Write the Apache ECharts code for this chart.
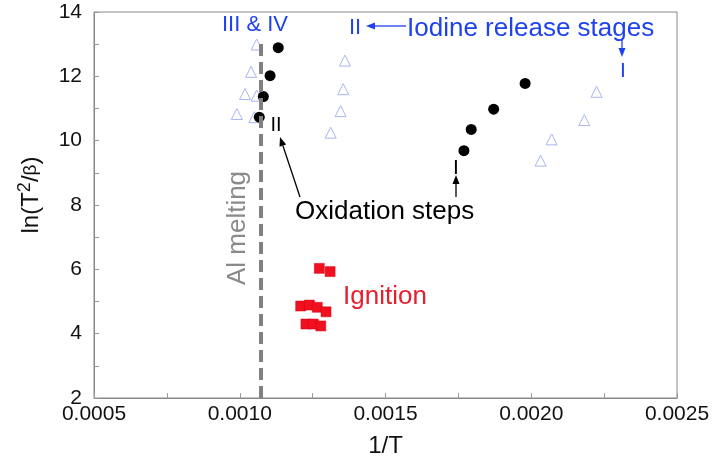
<!DOCTYPE html>
<html>
<head>
<meta charset="utf-8">
<script src="https://cdn.jsdelivr.net/npm/echarts@6/dist/echarts.min.js"></script>
<style>
html, body { margin: 0; padding: 0; background: #fff; }
#chart { width: 726px; height: 466px; }
</style>
</head>
<body>
<div id="chart"></div>
<script>
// oxidation steps (black dots)
var oxX = [0.001067, 0.001081, 0.001104, 0.001132, 0.001769, 0.001794, 0.001871, 0.001979];
var oxY = [10.73, 11.37, 12.02, 12.89, 9.69, 10.35, 10.98, 11.78];
// iodine release stages (open triangles)
var ioX = [0.00099, 0.00105, 0.001018, 0.001058, 0.001039, 0.001058,
           0.001312, 0.001346, 0.001355, 0.001361,
           0.002032, 0.00207, 0.002182, 0.002224];
var ioY = [10.83, 10.73, 11.45, 11.40, 12.14, 12.99,
           10.25, 10.92, 11.60, 12.49,
           9.38, 10.04, 10.64, 11.52];
// ignition (red squares)
var igX = [0.001273, 0.00131, 0.001209, 0.001239, 0.001266, 0.001296, 0.001227, 0.001252, 0.001278];
var igY = [6.03, 5.93, 4.86, 4.89, 4.82, 4.68, 4.30, 4.30, 4.24];
// Al melting line
var alX = 0.001073;
var alY = [2, 13.07];

var xTicks = [0.0005, 0.0010, 0.0015, 0.0020, 0.0025];
var yTicks = [2, 4, 6, 8, 10, 12, 14];

function pairs(xs, ys) {
    return xs.map(function (x, i) { return [x, ys[i]] })
}

var FONT = '"Liberation Sans", Arial, sans-serif'
var BLUE = '#1f42ee'

function txt(text, x, y, size, color, opts) {
    var o = {
        type: 'text', x: x, y: y, z: 100,
        style: {
            text: text, fontSize: size, fontFamily: FONT, fill: color,
            align: (opts && opts.align) || 'center', verticalAlign: 'middle'
        }
    }
    if (opts && opts.rotation) o.rotation = opts.rotation
    return o
}

function arrow(x1, y1, x2, y2, color) {
    var a = Math.atan2(y2 - y1, x2 - x1), h = 9, w = 3.5
    var bx = x2 - h * Math.cos(a), by = y2 - h * Math.sin(a)
    return [
        { type: 'line', z: 100, shape: { x1: x1, y1: y1, x2: bx, y2: by }, style: { stroke: color, lineWidth: 1.3 } },
        { type: 'polygon', z: 100, shape: { points: [[x2, y2], [bx + w * Math.sin(a), by - w * Math.cos(a)], [bx - w * Math.sin(a), by + w * Math.cos(a)]] }, style: { fill: color } }
    ]
}

var graphics = [
    txt('III & IV', 255, 25, 22, BLUE),
    txt('II', 355, 28, 22, BLUE),
    txt('Iodine release stages', 407, 29, 26, BLUE, { align: 'left' }),
    txt('I', 623, 71, 21, BLUE),
    txt('II', 276, 125, 20, '#000'),
    txt('I', 456, 168, 21, '#000'),
    txt('Oxidation steps', 295, 212, 26, '#000', { align: 'left' }),
    txt('Ignition', 343, 297, 26, '#e8202e', { align: 'left' }),
    txt('Al melting', 238, 228, 26, '#8a8a8a', { rotation: Math.PI / 2 })
].concat(
    arrow(406, 26, 366, 26, BLUE),
    arrow(622, 40, 622, 57, BLUE),
    arrow(300, 197, 280, 137, '#000'),
    arrow(456, 197, 456, 175, '#000')
)

var chart = echarts.init(document.getElementById('chart'))
chart.setOption({
    animation: false,
    textStyle: { fontFamily: FONT },
    grid: { left: 94, right: 49, top: 12, bottom: 68, show: true, borderColor: '#888', borderWidth: 1 },
    xAxis: {
        type: 'value',
        min: xTicks[0], max: xTicks[xTicks.length - 1], interval: 0.0005,
        name: '1/T', nameLocation: 'middle', nameGap: 36,
        nameTextStyle: { fontSize: 24, color: '#111' },
        axisLine: { show: true, lineStyle: { color: '#888' } },
        axisTick: { show: true, inside: true, length: 5, lineStyle: { color: '#999' } },
        minorTick: { show: true, splitNumber: 2, length: 5, lineStyle: { color: '#999' } },
        splitLine: { show: false },
        axisLabel: { fontSize: 21, color: '#111', margin: 6, formatter: function (v) { return v.toFixed(4) } }
    },
    yAxis: {
        type: 'value',
        min: yTicks[0], max: yTicks[yTicks.length - 1], interval: 2,
        name: 'ln(T{sup|2}/{b|β})', nameLocation: 'middle', nameGap: 48,
        nameTextStyle: {
            fontSize: 24, color: '#111', lineHeight: 30, padding: [0, 0, 0, 20],
            rich: {
                sup: { fontSize: 18, color: '#111', verticalAlign: 'top', lineHeight: 30, padding: [0, 0, 8, 0] },
                b: { fontSize: 19, color: '#111', lineHeight: 30 }
            }
        },
        axisLine: { show: true, lineStyle: { color: '#888' } },
        axisTick: { show: true, inside: true, length: 5, lineStyle: { color: '#999' } },
        minorTick: { show: true, splitNumber: 2, length: 5, lineStyle: { color: '#999' } },
        splitLine: { show: false },
        axisLabel: { fontSize: 21, color: '#111', margin: 12 }
    },
    series: [
        {
            type: 'scatter', z: 2,
            data: pairs(ioX, ioY),
            symbol: 'triangle', symbolSize: 11,
            itemStyle: { color: 'rgba(255,255,255,0)', borderColor: '#a9b4f2', borderWidth: 1, opacity: 1 }
        },
        {
            type: 'scatter', z: 3,
            data: pairs(oxX, oxY),
            symbol: 'circle', symbolSize: 11,
            itemStyle: { color: '#000', opacity: 1 }
        },
        {
            type: 'line', z: 4,
            data: [[alX, alY[0]], [alX, alY[1]]],
            symbol: 'none',
            lineStyle: { color: '#808080', width: 4, type: [12, 6] }
        },
        {
            type: 'scatter', z: 5,
            data: pairs(igX, igY),
            symbol: 'rect', symbolSize: 10,
            itemStyle: { color: '#f0101e', borderColor: '#d8001a', borderWidth: 0.5, opacity: 1 }
        }
    ],
    graphic: graphics
})
</script>
</body>
</html>
